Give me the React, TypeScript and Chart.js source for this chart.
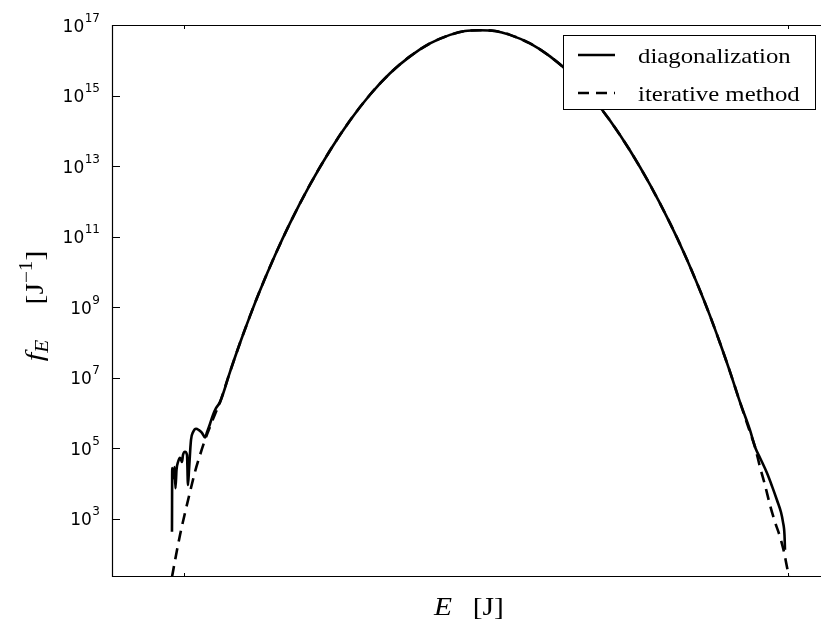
import React, { useEffect, useRef } from 'react';
import { Chart, registerables } from 'chart.js';

Chart.register(...registerables);

// ---- data (energy in arbitrary units, f_E in J^-1) ----
const seriesLabels = ['diagonalization', 'iterative method'];

const leftSolidE = [-1.99, -1.95, -1.74, -1.57, -1.41, -1.24, -0.99, -0.66, -0.33, -0.17, 0.17, 0.5, 0.66, 0.83, 1.16, 1.49, 1.99, 2.48, 2.98, 3.48, 3.81, 4.3, 4.8, 5.3];
const leftSolidF = [4.2e2, 2.7e4, 1.4e4, 2.9e4, 7.2e3, 2.4e4, 4.0e4, 5.3e4, 4.0e4, 6.3e4, 7.8e4, 6.3e4, 8.9e3, 2.4e4, 1.7e5, 2.8e5, 3.5e5, 3.2e5, 2.7e5, 2.0e5, 2.8e5, 4.8e5, 8.7e5, 1.35e6];

const leftDashE = [-1.99, -1.32, -0.66, 0.17, 0.99, 1.82, 2.65, 3.48, 4.3, 5.13];
const leftDashF = [2.19e1, 9.1e1, 3.4e2, 1.45e3, 5.6e3, 2.1e4, 6.3e4, 1.7e5, 4.0e5, 9.1e5];

const mainE = [5.96, 7.62, 9.27, 10.93, 12.58, 15.07, 17.55, 20.86, 24.17, 27.48, 30.79, 34.11, 37.42, 40.73, 44.04, 46.52, 49.01, 51.49, 53.97, 57.28, 60.6, 63.91, 67.22, 70.53, 73.84, 77.15, 80.46, 82.95, 85.43, 87.09, 88.74, 90.4, 92.05];
const mainF = [2.0e6, 1.45e7, 9.5e7, 5.6e8, 2.95e9, 2.95e10, 2.4e11, 2.95e12, 2.75e13, 1.95e14, 1.05e15, 4.27e15, 1.29e16, 3.0e16, 5.25e16, 6.76e16, 7.08e16, 6.76e16, 5.25e16, 3.0e16, 1.29e16, 4.27e15, 1.05e15, 1.95e14, 2.75e13, 2.95e12, 2.4e11, 2.95e10, 2.95e9, 5.6e8, 9.5e7, 1.45e7, 2.0e6];

const rightSolidE = [93.71, 94.54, 95.36, 96.52, 97.35, 98.18, 98.84, 99.17, 99.42, 99.5];
const rightSolidF = [3.2e5, 1.07e5, 5.3e4, 1.95e4, 8.3e3, 3.3e3, 1.5e3, 7.9e2, 3.4e2, 1.3e2];

const rightDashE = [93.71, 94.54, 95.36, 96.19, 97.02, 97.85, 98.68, 99.34, 99.83, 100.17];
const rightDashF = [2.8e5, 1.07e5, 2.9e4, 8.9e3, 2.4e3, 7.9e2, 3.0e2, 1.12e2, 4.2e1, 2.19e1];

const yTickValues = [1e3, 1e5, 1e7, 1e9, 1e11, 1e13, 1e15, 1e17];
const yTickExponents = ['3', '5', '7', '9', '11', '13', '15', '17'];
const xTickValues = [0, 100];

const SERIF = '"Liberation Serif", "DejaVu Serif", serif';
const SANS = '"DejaVu Sans", sans-serif';

const toPoints = (xs: number[], ys: number[]) => xs.map((x, i) => ({ x, y: ys[i] }));

// draws pieces [text, font, dy] horizontally stretched (Computer-Modern-like width)
function drawPieces(ctx: any, pieces: [string, string, number][], x: number, y: number, sx: number) {
  ctx.save();
  ctx.translate(x, y);
  ctx.scale(sx, 1);
  let cx = 0;
  for (const [t, f, dy] of pieces) {
    ctx.font = f;
    ctx.fillText(t, cx, dy);
    cx += ctx.measureText(t).width;
  }
  ctx.restore();
}
function piecesWidth(ctx: any, pieces: [string, string, number][], sx: number) {
  let w = 0;
  for (const [t, f] of pieces) { ctx.font = f; w += ctx.measureText(t).width; }
  return w * sx;
}

const framePlugin = {
  id: 'mplFrame',
  afterDatasetsDraw(chart: any) {
    const { ctx, chartArea: a, scales } = chart;
    ctx.save();
    ctx.strokeStyle = '#000';
    ctx.lineWidth = 1.2;
    ctx.beginPath();
    ctx.moveTo(a.right, a.top + 0.5);
    ctx.lineTo(a.left + 0.5, a.top + 0.5);
    ctx.lineTo(a.left + 0.5, a.bottom - 0.5);
    ctx.lineTo(a.right, a.bottom - 0.5);
    ctx.stroke();
    ctx.lineWidth = 1;
    ctx.beginPath();
    for (const v of yTickValues) {
      const y = Math.round(scales.y.getPixelForValue(v)) + 0.5;
      ctx.moveTo(a.left, y);
      ctx.lineTo(a.left + 8, y);
    }
    for (const v of xTickValues) {
      const x = Math.round(scales.x.getPixelForValue(v)) + 0.5;
      ctx.moveTo(x, a.bottom);
      ctx.lineTo(x, a.bottom - 4);
      ctx.moveTo(x, a.top);
      ctx.lineTo(x, a.top + 4);
    }
    ctx.stroke();

    // y tick labels 10^n
    ctx.fillStyle = '#000';
    ctx.textBaseline = 'alphabetic';
    ctx.textAlign = 'right';
    const rightEdge = a.left - 12;
    yTickValues.forEach((v, i) => {
      const y = scales.y.getPixelForValue(v);
      const e = yTickExponents[i];
      ctx.font = `12px ${SANS}`;
      const ew = ctx.measureText(e).width;
      ctx.fillText(e, rightEdge, y - 3.5);
      ctx.font = `17px ${SANS}`;
      ctx.fillText('10', rightEdge - ew - 0.5, y + 6.5);
    });
    ctx.restore();
  },
};

const titlesPlugin = {
  id: 'mplTitles',
  afterDraw(chart: any) {
    const { ctx, chartArea: a } = chart;
    ctx.save();
    ctx.fillStyle = '#000';
    ctx.textBaseline = 'alphabetic';
    ctx.textAlign = 'left';
    const sx = 1.18;
    // x title: E [J]
    const xParts: [string, string, number][] = [
      ['E', `italic 25px ${SERIF}`, 0],
      ['\u2002\u2009[J]', `25px ${SERIF}`, 0],
    ];
    const xw = piecesWidth(ctx, xParts, sx);
    drawPieces(ctx, xParts, (a.left + a.right) / 2 - xw / 2, 615, sx);

    // y title: f_E [J^-1]
    const yParts: [string, string, number][] = [
      ['f', `italic 26px ${SERIF}`, 0],
      ['E', `italic 18px ${SERIF}`, 5],
      ['\u2003\u2009[J', `25px ${SERIF}`, 0],
      ['\u22121', `18px ${SERIF}`, -11],
      [']', `25px ${SERIF}`, 0],
    ];
    const yw = piecesWidth(ctx, yParts, sx);
    ctx.translate(43, 306);
    ctx.rotate(-Math.PI / 2);
    drawPieces(ctx, yParts, -yw / 2, 0, sx);
    ctx.restore();
  },
};

const legendPlugin = {
  id: 'mplLegend',
  afterDraw(chart: any) {
    const { ctx } = chart;
    const left = 563.5, top = 35.5, right = 815.5, bottom = 109.5;
    ctx.save();
    ctx.fillStyle = '#fff';
    ctx.fillRect(left, top, right - left, bottom - top);
    ctx.strokeStyle = '#000';
    ctx.lineWidth = 1;
    ctx.strokeRect(left, top, right - left, bottom - top);
    const rowsY = [55, 93];
    chart.data.datasets.forEach((ds: any, i: number) => {
      const y = rowsY[i];
      ctx.beginPath();
      ctx.lineWidth = ds.borderWidth;
      ctx.strokeStyle = ds.borderColor;
      ctx.setLineDash(ds.borderDash || []);
      ctx.moveTo(578, y);
      ctx.lineTo(615, y);
      ctx.stroke();
      ctx.setLineDash([]);
      ctx.fillStyle = '#000';
      ctx.textAlign = 'left';
      ctx.textBaseline = 'alphabetic';
      drawPieces(ctx, [[ds.label, `21px ${SERIF}`, 0]], 638, y + 7.5, 1.18);
    });
    ctx.restore();
  },
};

export default function App() {
  const ref = useRef<HTMLCanvasElement>(null);
  useEffect(() => {
    const canvas = ref.current;
    if (!canvas) return;
    const chart = new Chart(canvas, {
      type: 'line',
      data: {
        datasets: [
          {
            label: seriesLabels[0],
            data: toPoints([...leftSolidE, ...mainE, ...rightSolidE], [...leftSolidF, ...mainF, ...rightSolidF]),
            borderColor: '#000',
            borderWidth: 2.6,
            pointRadius: 0,
            fill: false,
            cubicInterpolationMode: 'monotone',
          },
          {
            label: seriesLabels[1],
            data: toPoints([...leftDashE, ...mainE, ...rightDashE], [...leftDashF, ...mainF, ...rightDashF]),
            borderColor: '#000',
            borderWidth: 2.6,
            borderDash: [11, 7],
            pointRadius: 0,
            fill: false,
            cubicInterpolationMode: 'monotone',
          },
        ],
      },
      options: {
        animation: false,
        responsive: false,
        devicePixelRatio: 1,
        layout: { padding: { top: 25, left: 0, right: 0, bottom: 0 } },
        plugins: { legend: { display: false }, tooltip: { enabled: false } },
        scales: {
          x: {
            type: 'linear',
            min: -11.92,
            max: 106.29,
            grid: { display: false, drawTicks: false },
            border: { display: false },
            ticks: { display: false },
            afterBuildTicks: (s: any) => { s.ticks = xTickValues.map((v) => ({ value: v })); },
            afterFit: (s: any) => { s.height = 47; },
          },
          y: {
            type: 'logarithmic',
            min: 21.9,
            max: 1e17,
            grid: { display: false, drawTicks: false },
            border: { display: false },
            ticks: { display: false },
            afterBuildTicks: (s: any) => { s.ticks = yTickValues.map((v) => ({ value: v })); },
            afterFit: (s: any) => { s.width = 112; },
          },
        },
      },
      plugins: [framePlugin, titlesPlugin, legendPlugin],
    } as any);
    return () => chart.destroy();
  }, []);
  return (
    <div style={{ position: 'fixed', left: 0, top: 0, width: 821, height: 624, overflow: 'hidden', background: '#fff' }}>
      <canvas ref={ref} width={826} height={624} style={{ display: 'block', width: 826, height: 624 }} />
    </div>
  );
}
